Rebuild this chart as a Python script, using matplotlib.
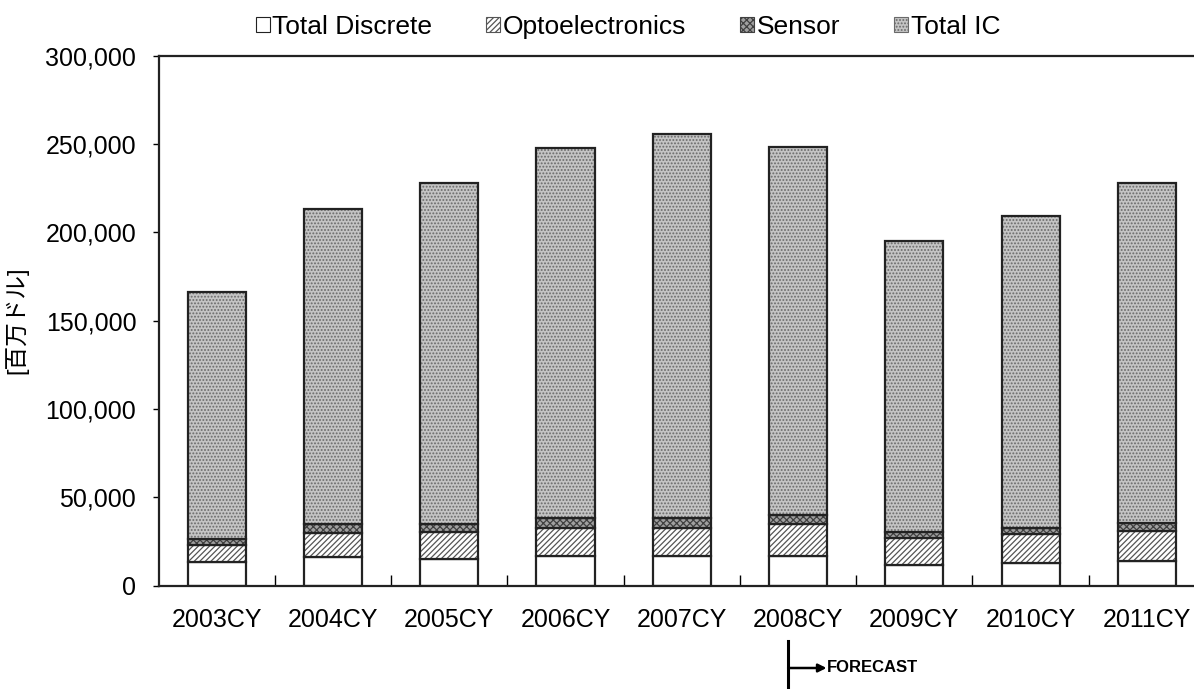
import numpy as np
import matplotlib
matplotlib.use("Agg")
from matplotlib import pyplot as plt
from matplotlib.patches import Patch

plt.rcParams['font.family'] = ['Liberation Sans', 'Noto Sans CJK JP', 'DejaVu Sans']
plt.rcParams['hatch.linewidth'] = 0.9

years = ["2003CY", "2004CY", "2005CY", "2006CY", "2007CY", "2008CY", "2009CY", "2010CY", "2011CY"]
# millions of US dollars
total_discrete = [13600, 16100, 15100, 17000, 16800, 16800, 11700, 12700, 13800]
optoelectronics = [9400, 13600, 15100, 15500, 15700, 18100, 15500, 16400, 17300]
sensor = [3400, 5100, 4700, 6000, 5600, 5100, 3000, 3400, 4200]
total_ic = [140000, 178400, 193100, 209300, 217600, 208400, 164900, 176800, 192700]

series = [
    ("Total Discrete", total_discrete, "white", "#ffffff", ""),
    ("Optoelectronics", optoelectronics, "white", "#555555", "//////"),
    ("Sensor", sensor, "#a0a0a0", "#404040", "xxxxx"),
    ("Total IC", total_ic, "#c4c4c4", "#6a6a6a", "....."),
]


def main():
    fig = plt.figure(figsize=(11.94, 6.89), dpi=100)
    # right spine falls just outside the picture, as in the reference
    ax = fig.add_axes([158.5 / 1194, 1 - 585.7 / 689, (1205 - 158.5) / 1194, 530 / 689])

    x = np.arange(len(years))
    width = 0.5
    bottom = np.zeros(len(years))
    handles = []
    for name, vals, face, hcol, hatch in series:
        vals = np.array(vals, dtype=float)
        ax.bar(x, vals, width, bottom=bottom, color=face, edgecolor=hcol, hatch=hatch, linewidth=0)
        ax.bar(x, vals, width, bottom=bottom, fill=False, edgecolor="#222222", linewidth=1.6)
        bottom += vals
        handles.append(Patch(facecolor=face, edgecolor=hcol if hatch else "#222222", hatch=hatch,
                             linewidth=0.8, label=name))

    ax.set_xlim(-0.5, len(years) - 0.5)
    ax.set_ylim(0, 300000)
    ax.set_yticks(np.arange(0, 300001, 50000))
    ax.yaxis.set_major_formatter(matplotlib.ticker.FuncFormatter(lambda v, p: f"{int(v):,}"))
    ax.tick_params(axis="y", direction="out", length=4, width=1, labelsize=18, pad=12)

    ax.set_xticks(x)
    ax.set_xticklabels(years)
    ax.tick_params(axis="x", which="major", length=0, labelsize=18, pad=16)
    ax.set_xticks(x[:-1] + 0.5, minor=True)
    ax.tick_params(axis="x", which="minor", direction="in", length=8, width=1)

    for s in ax.spines.values():
        s.set_linewidth(1.6)
        s.set_color("#222222")

    ax.set_ylabel("[百万ドル]", fontsize=17, labelpad=12)

    fig.legend(handles=handles, loc="center", bbox_to_anchor=(628 / 1194, 1 - 27 / 689), ncol=4,
               frameon=False, fontsize=19, handlelength=0.52, handleheight=0.52,
               handletextpad=0.1, columnspacing=2.05)

    # forecast marker
    trans = matplotlib.transforms.blended_transform_factory(ax.transData, fig.transFigure)
    fx = 4.915
    ax.plot([fx, fx], [1 - 641 / 689, 0], transform=trans, color="black", lw=2.2, clip_on=False)
    ax.annotate("", xy=(fx + 0.33, 1 - 668 / 689), xytext=(fx, 1 - 668 / 689),
                xycoords=trans, textcoords=trans,
                arrowprops=dict(arrowstyle="-|>", color="black", lw=1.8, mutation_scale=12,
                                shrinkA=0, shrinkB=0))
    ax.text(fx + 0.335, 1 - 668 / 689, "FORECAST", transform=trans, fontsize=12,
            fontweight="bold", va="center", ha="left")

    fig.savefig("out.png", dpi=100)


if __name__ == "__main__":
    main()
